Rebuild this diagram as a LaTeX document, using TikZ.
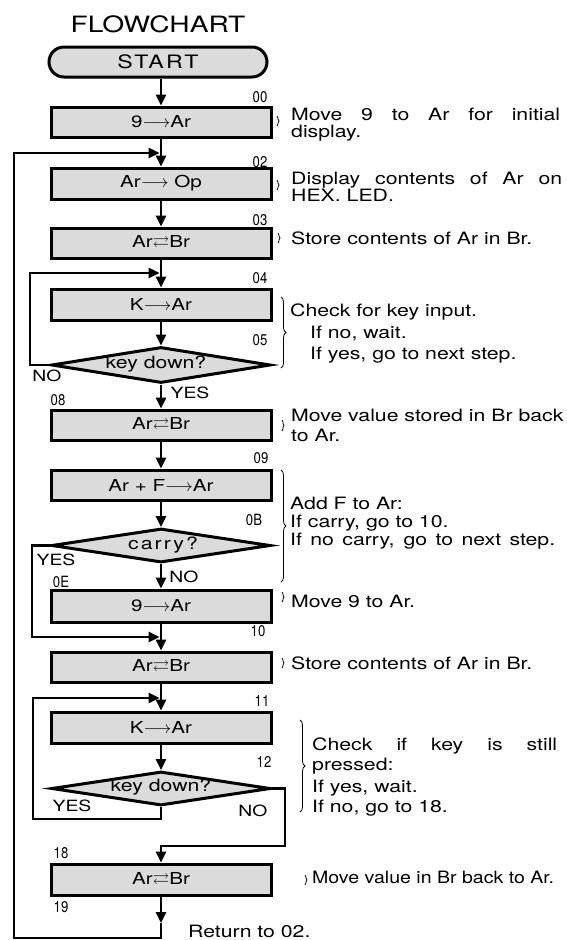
\documentclass[tikz,border=0pt]{standalone}
\usepackage{fontspec}
\usepackage{amssymb}
\usepackage{graphicx}
\setmainfont{TeX Gyre Heros}[FakeStretch=1.25]
\newfontfamily\narrowfont{TeX Gyre Heros}[FakeStretch=0.85]
\newfontfamily\spacedfont{TeX Gyre Heros}[FakeStretch=1.25,LetterSpace=12]
\usetikzlibrary{arrows.meta,shapes.geometric,decorations.pathreplacing}
\definecolor{boxgray}{gray}{0.86}
\newcommand\descfont{\fontsize{17}{20}\selectfont}
\newcommand\ra{$\longrightarrow$}
\newcommand\rl{$\rightleftarrows$}
\begin{document}
\begin{tikzpicture}[x=1pt,y=-1pt,
  box/.style={draw, line width=3pt, fill=boxgray, minimum width=220pt, minimum height=30pt, inner sep=0pt, font=\fontsize{16.5}{19}\selectfont},
  startbox/.style={draw, line width=3pt, fill=boxgray, rounded corners=15pt, minimum width=218pt, minimum height=30pt, inner sep=0pt, font=\spacedfont\fontsize{18.5}{22}\selectfont},
  dia/.style={draw, diamond, line width=3pt, fill=boxgray, minimum width=219pt, minimum height=34pt, inner sep=0pt},
  diat/.style={inner sep=0pt, font=\fontsize{17}{20}\selectfont},
  arr/.style={line width=2.5pt, -{Triangle[length=11pt,width=10pt]}},
  conn/.style={line width=2.5pt},
  lab/.style={inner sep=0pt, font=\narrowfont\fontsize{15.5}{18}\selectfont},
  yn/.style={inner sep=0pt, font=\fontsize{15.5}{18}\selectfont},
  desc/.style={inner sep=0pt, anchor=base west, font=\descfont},
  brc/.style={decorate, decoration={brace, amplitude=5pt}, line width=0.8pt},
  sbr/.style={decorate, decoration={brace, amplitude=2pt}, line width=0.7pt},
]
\path[fill=white] (0,0) rectangle (567,940);
\useasboundingbox (0,0) rectangle (567,940);

% title and start
\node[inner sep=0pt, font=\fontsize{22.5}{26}\selectfont] (title) at (158,24) {FLOWCHART};
\node[startbox] (start) at (158,62) {START};

% boxes and decisions
\node[box] (b00) at (161,122) {9\ra Ar};
\node[box, minimum height=31pt] (b02) at (161,183.5) {Ar\ra\ Op};
\node[box] (b03) at (161,243) {Ar\rl Br};
\node[box, minimum height=31pt] (b04) at (161,304.5) {K\ra Ar};
\node[dia, minimum height=36pt] (d05) at (161,365) {};
\node[diat] (d05t) at (156,364) {key down?};
\node[box] (b08) at (161,425) {Ar\rl Br};
\node[box] (b09) at (161,485) {Ar + F\ra Ar};
\node[dia] (d0B) at (161,545.5) {};
\node[diat, font=\spacedfont\fontsize{17}{20}\selectfont] (d0Bt) at (163,545) {carry?};
\node[box, minimum height=32pt] (b0E) at (161,606) {9\ra Ar};
\node[box] (b10) at (161,667) {Ar\rl Br};
\node[box, minimum height=31pt] (b11) at (161,727.5) {K\ra Ar};
\node[dia] (d12) at (161,788.5) {};
\node[diat] (d12t) at (161,787) {key down?};
\node[box, minimum height=31pt] (b18) at (161,879.5) {Ar\rl Br};

% join points on the main line
\coordinate (j02) at (159.5,153);
\coordinate (j04) at (159.5,273);
\coordinate (j10) at (159.5,637);
\coordinate (j11) at (159.5,698);
\coordinate (ret) at (161,923);

% main flow
\draw[arr] (start.south -| b00.north) -- (b00.north);
\draw[arr] (b00) -- (b02);
\draw[arr] (b02) -- (b03);
\draw[arr] (b03) -- (b04);
\draw[arr] (b04) -- (d05);
\draw[arr] (d05) -- (b08);
\draw[arr] (b08) -- (b09);
\draw[arr] (b09) -- (d0B);
\draw[arr] (d0B) -- (b0E);
\draw[arr] (b0E) -- (b10);
\draw[arr] (b10) -- (b11);
\draw[arr] (b11) -- (d12);
\draw[arr] (b18) -- (ret);

% loops
\draw[arr] (d05.west) -- (30,365) -- (30,273) -- (j04);
\draw[arr] (d0B.west) -- (32,545.5) -- (32,637) -- (j10);
\draw[arr] (d12.south) -- (161,819) -- (33,819) -- (33,698) -- (j11);
\draw[arr] (d12.east) -- (285,788.5) -- (285,846) -- (161,846) -- (b18.north);
\draw[arr] (ret) -- (161,938) -- (14,938) -- (14,153) -- (j02);

% address labels
\node[lab] (l00) at (260,97) {00};
\node[lab] (l02) at (260,162) {02};
\node[lab] (l03) at (260,220) {03};
\node[lab] (l04) at (260,278) {04};
\node[lab] (l05) at (260,340) {05};
\node[lab] (l08) at (58,400) {08};
\node[lab] (l09) at (261,458) {09};
\node[lab] (l0B) at (254,520) {0B};
\node[lab] (l0E) at (61,582) {0E};
\node[lab] (l10) at (258,631) {10};
\node[lab] (l11) at (262,701) {11};
\node[lab] (l12) at (264,762) {12};
\node[lab] (l18) at (61,853) {18};
\node[lab] (l19) at (61,907) {19};

% yes / no
\node[yn] (no05) at (47,376) {NO};
\node[yn] (yes05) at (190,393) {YES};
\node[yn] (yes0B) at (56,560) {YES};
\node[yn] (no0B) at (184,577) {NO};
\node[yn] (yes12) at (72,806) {YES};
\node[yn] (no12) at (253,811) {NO};

% braces
\draw[sbr] (277,116) -- (277,126);
\draw[sbr] (277,180) -- (277,190);
\draw[sbr] (278,233) -- (278,243);
\draw[brc] (281,297) -- (281,368);
\draw[sbr] (282,420) -- (282,431);
\draw[brc] (281,470) -- (281,582);
\draw[sbr] (282,592) -- (282,602);
\draw[sbr] (282,658) -- (282,668);
\draw[brc] (300,720) -- (300,812);
\draw[sbr] (305,875) -- (305,885);

% descriptions
\node[desc] (t00a) at (291,120) {\makebox[269pt][s]{Move 9 to Ar for initial}};
\node[desc] (t00b) at (291,137) {display.};
\node[desc] (t02a) at (291,184) {\makebox[271pt][s]{Display contents of Ar on}};
\node[desc] (t02b) at (291,201) {HEX. LED.};
\node[desc] (t03) at (291,244) {Store contents of Ar in Br.};
\node[desc] (t05a) at (290,316) {Check for key input.};
\node[desc] (t05b) at (310,338) {If no, wait.};
\node[desc] (t05c) at (310,359) {If yes, go to next step.};
\node[desc] (t08a) at (291,421) {Move value stored in Br back};
\node[desc] (t08b) at (291,441) {to Ar.};
\node[desc] (t09a) at (290,509) {Add F to Ar:};
\node[desc] (t09b) at (290,527) {If carry, go to 10.};
\node[desc] (t09c) at (290,545) {\makebox[265pt][s]{If no carry, go to next step.}};
\node[desc] (t0E) at (291,607) {Move 9 to Ar.};
\node[desc] (t10) at (291,669) {Store contents of Ar in Br.};
\node[desc] (t12a) at (312,750) {\makebox[245pt][s]{Check if key is still}};
\node[desc] (t12b) at (312,770) {pressed:};
\node[desc] (t12c) at (312,792) {If yes, wait.};
\node[desc] (t12d) at (312,812) {If no, go to 18.};
\node[desc] (t18) at (312,883) {\scalebox{0.92}[1]{Move value in Br back to Ar.}};
\node[desc] (tret) at (188,937) {Return to 02.};
\end{tikzpicture}
\end{document}
